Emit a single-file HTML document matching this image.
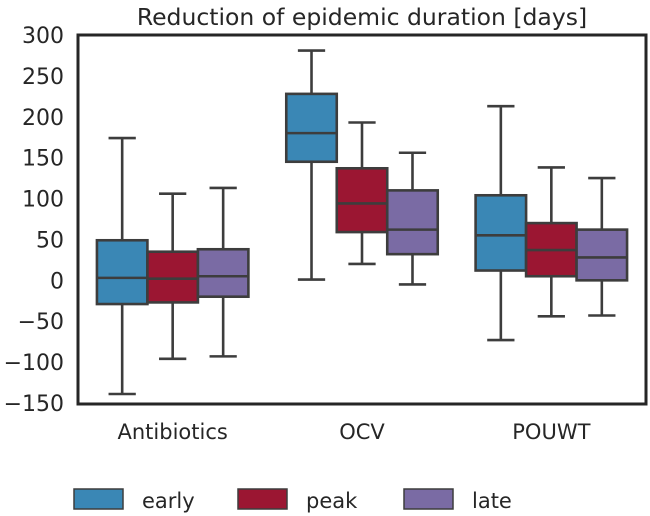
<!DOCTYPE html>
<html><head><meta charset="utf-8"><style>
html,body{margin:0;padding:0;background:#fff;}
svg{display:block;font-family:"DejaVu Sans","Liberation Sans",sans-serif;}
</style></head><body>
<svg id="chart" width="650" height="516" viewBox="0 0 650 516">
<text x="362" y="25" text-anchor="middle" font-size="23.5" fill="#262626">Reduction of epidemic duration [days]</text>
<g id="yticks"></g>
<g id="boxes"></g>
<rect x="78" y="35" width="568" height="369" fill="none" stroke="#262626" stroke-width="3"/>
<g id="xlabels"></g>
<g id="legend"></g>
</svg>
<script>
const categories = ["Antibiotics","OCV","POUWT"];
const seriesNames = ["early","peak","late"];
const seriesColors = ["#3a87b5","#9b1632","#7a6ba4"];
// per series: [category][whiskerLow, q1, median, q3, whiskerHigh]
const early = [[-139,-29,3,49,174],[1,145,180,228,281],[-73,12,55,104,213]];
const peak  = [[-96,-27,2,35,106],[20,59,94,137,193],[-44,5,37,70,138]];
const late  = [[-93,-20,5,38,113],[-5,32,62,110,156],[-43,0,28,62,125]];
const series = [early, peak, late];
const yTicks = [300,250,200,150,100,50,0,-50,-100,-150];

const NS="http://www.w3.org/2000/svg";
const X0=78, X1=646, Y0=35, Y1=403;
function y(v){return Y1-(v+150)/450*(Y1-Y0);}
const groupW=(X1-X0)/categories.length;
function xc(i){return X0+groupW*(i+0.5);}
const boxW=groupW*0.8/3;
function mk(tag,attrs,parent){const e=document.createElementNS(NS,tag);for(const k in attrs)e.setAttribute(k,attrs[k]);parent.appendChild(e);return e;}

const yt=document.getElementById('yticks');
yTicks.forEach(t=>{
  const e=mk('text',{x:64,y:y(t)+8,'text-anchor':'end','font-size':22,fill:'#262626'},yt);
  
  
  e.textContent=t<0?'\u2212'+Math.abs(t):String(t);
});

const bg=document.getElementById('boxes');
series.forEach((s,si)=>{
  s.forEach((d,ci)=>{
    const left=xc(ci)-1.5*boxW+si*boxW, mid=left+boxW/2;
    const g=mk('g',{},bg);
    
    
    const st={stroke:'#3d3d3d','stroke-width':2.6};
    mk('line',Object.assign({x1:mid,x2:mid,y1:y(d[3]),y2:y(d[4])},st),g);
    mk('line',Object.assign({x1:mid,x2:mid,y1:y(d[1]),y2:y(d[0])},st),g);
    mk('line',Object.assign({x1:mid-boxW*0.27,x2:mid+boxW*0.27,y1:y(d[4]),y2:y(d[4])},st),g);
    mk('line',Object.assign({x1:mid-boxW*0.27,x2:mid+boxW*0.27,y1:y(d[0]),y2:y(d[0])},st),g);
    mk('rect',Object.assign({x:left,y:y(d[3]),width:boxW,height:y(d[1])-y(d[3]),fill:seriesColors[si]},st),g);
    mk('line',Object.assign({x1:left,x2:left+boxW,y1:y(d[2]),y2:y(d[2])},st),g);
  });
});

const xl=document.getElementById('xlabels');
categories.forEach((c,i)=>{
  const e=mk('text',{x:xc(i),y:439,'text-anchor':'middle','font-size':21,fill:'#262626'},xl);
  
  
  e.textContent=c;
});

const lg=document.getElementById('legend');
const legX=[74,238,404];
seriesNames.forEach((n,i)=>{
  const g=mk('g',{},lg);
  
  
  mk('rect',{x:legX[i],y:489,width:49,height:20,fill:seriesColors[i],stroke:'#3d3d3d','stroke-width':1.5},g);
  const t=mk('text',{x:legX[i]+68,y:508,'font-size':21,fill:'#262626'},g);
  t.textContent=n;
});
</script>
</body></html>
